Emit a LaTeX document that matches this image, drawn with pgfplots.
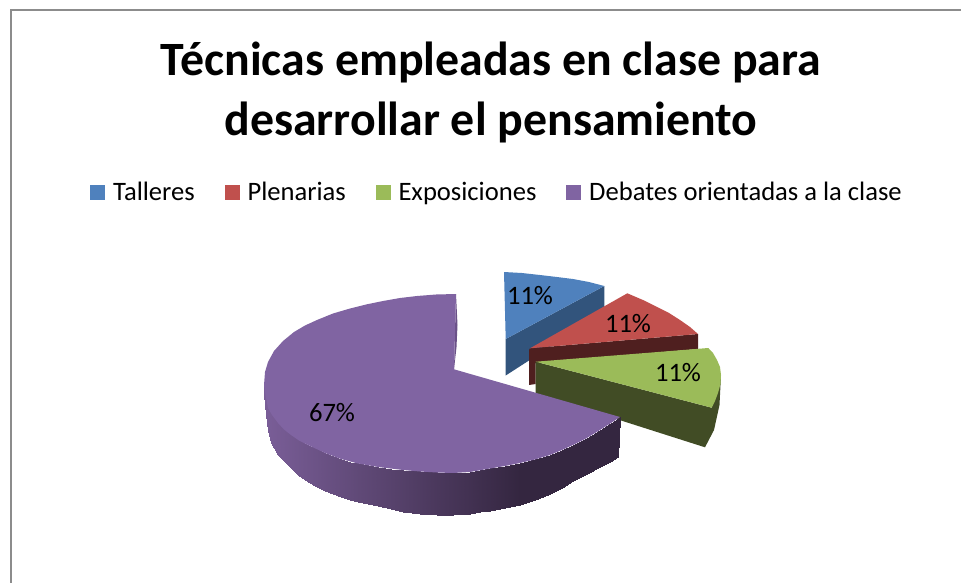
\documentclass[border=0pt]{standalone}
\usepackage{fontspec}
\setmainfont{Carlito}
\usepackage{pgfplots}
\pgfplotsset{compat=1.18}

\definecolor{cblue}{HTML}{4F81BD}
\definecolor{cbluedk}{HTML}{32547C}
\definecolor{cred}{HTML}{C0504D}
\definecolor{creddk}{HTML}{4F1F1F}
\definecolor{cgreen}{HTML}{9BBB59}
\definecolor{cgreendk}{HTML}{414C25}
\definecolor{cpurple}{HTML}{8064A2}
\definecolor{cpurplein}{HTML}{6A5187}
\definecolor{cframe}{HTML}{8C8C8C}

\begin{document}
\begin{tikzpicture}
\begin{axis}[
    width=961bp, height=583bp,
    scale only axis,
    hide axis,
    xmin=0, xmax=961,
    ymin=0, ymax=583,
    y dir=reverse,
    legend columns=4,
    legend cell align=left,
    legend style={
        draw=none, fill=none,
        font=\fontsize{26.7}{30}\selectfont,
        at={(90/961,391/583)}, anchor=west,
        inner sep=0pt,
        /tikz/every even column/.append style={column sep=27.7bp},
    },
    legend image code/.code={
        \fill[#1] (0bp,-7.5bp) rectangle (15bp,7.5bp);
        \path (21bp,0bp);
    },
    colormap={purpwall}{rgb255=(122,94,152) rgb255=(52,38,64)},
    point meta min=0, point meta max=1,
]
\path (axis cs:0,0) rectangle (axis cs:961,583);
% frame
\addplot[forget plot, cframe, line width=2bp] coordinates {(10.5,583) (10.5,10.5) (961,10.5)};

% Talleres
\addplot[forget plot, fill=cbluedk, draw=none] coordinates {(505.7,339) (604.3,286) (604.3,312) (505.7,375.5)} --cycle;
\addplot[fill=cblue, draw=none] coordinates {(505.7,339) (504,272) (522,273) (540,275) (557,277) (573,279) (589,282) (604.3,286)} --cycle;
\addlegendentry{Talleres}

% Plenarias
\addplot[forget plot, fill=creddk, draw=none] coordinates {(530,348.3) (698,334) (698,349) (535.7,363) (535.7,384) (529,385) (529,350)} --cycle;
\addplot[fill=cred, draw=none] coordinates {(530,348.3) (627.3,293.3) (643,300) (657,307) (669,313) (680,320) (690,327) (698,334)} --cycle;
\addlegendentry{Plenarias}

% Exposiciones
\addplot[forget plot, fill=cgreendk, draw=none] coordinates {(535.7,361.7) (711.7,407.7) (721,375) (719.5,405) (714,430) (705,447.3) (535.7,393.3)} --cycle;
\addplot[fill=cgreen, draw=none] coordinates {(535.7,361.7) (708.3,348) (713,353) (717,360) (720,367) (721,375) (720.5,384) (718,393) (715,401) (711.7,407.7)} --cycle;
\addlegendentry{Exposiciones}

% Debates: wall, inner sliver, then top
\addplot[forget plot, patch, patch type=rectangle, mesh input=lattice, mesh/cols=2, shader=interp, point meta=explicit]
    table[meta=c] {
x y c
264 385 0.00
264 395 0.00
266 398 0.01
266 415 0.01
268 408 0.015
268 430 0.015
272 415 0.03
271 443 0.03
278 423 0.055
278 455 0.055
291 435 0.105
291 468 0.105
299 440 0.137
299 475.5 0.137
308 445 0.17
308 482 0.17
316.5 449 0.205
316.5 486.5 0.205
325 453 0.24
325 490.5 0.24
333 456 0.27
333 494 0.27
341 459 0.30
341 497 0.30
349.5 461.5 0.334
349.5 499.5 0.334
358 463 0.37
358 501.5 0.37
368 465 0.406
368 504 0.406
378 467 0.445
378 506 0.445
390.5 468.5 0.494
390.5 509 0.494
403 470 0.54
403 511.5 0.54
420 471 0.61
420 513.5 0.61
437 472 0.68
437 514.5 0.68
453 472.5 0.738
453 515 0.738
470 472 0.80
470 513.5 0.80
480 470 0.844
480 512 0.844
490 468 0.88
490 510.5 0.88
505 465.5 0.94
505 508 0.94
520 463 1.00
520 504.5 1.00
535 459 1.00
535 499.5 1.00
550 455 1.00
550 493.5 1.00
562 450 1.00
562 487.5 1.00
573 445 1.00
573 481 1.00
587 438 1.00
587 474 1.00
600 430 1.00
600 467 1.00
611 423 1.00
610 462 1.00
620 417 1.00
618 457 1.00
};
\addplot[forget plot, fill=cpurplein, draw=none] coordinates {(456,294) (457.5,325) (456.5,347) (454,369.3)} --cycle;
\addplot[fill=cpurple, draw=none] coordinates {
    (454,369.3) (456,294) (436,294.5) (417,296) (400,298) (383,301) (366,304.5) (350,308.5)
    (333,313.5) (317,320) (305,325.5) (294,332) (283,341) (274,351) (268,362) (265,372) (264,385)
    (265,392) (266,398) (268,408) (272,415) (278,423) (284,429.5) (291,435) (299,440.5) (308,445)
    (325,453) (341,459) (358,463.5) (378,467) (403,470) (420,471.5) (437,472.5) (453,473) (470,472)
    (490,468.5) (505,466) (520,463) (535,459.5) (550,455) (562,450) (573,445) (587,438) (600,430) (611,423) (620,417)} --cycle;
\addlegendentry{Debates orientadas a la clase}

\node[font=\fontsize{48}{60}\selectfont\bfseries, align=center, anchor=center] at (axis cs:491,92.5)
    {Técnicas empleadas en clase para\\desarrollar el pensamiento};

\node[font=\fontsize{26.7}{30}\selectfont] at (axis cs:530,296) {11\%};
\node[font=\fontsize{26.7}{30}\selectfont] at (axis cs:628,324) {11\%};
\node[font=\fontsize{26.7}{30}\selectfont] at (axis cs:678,373) {11\%};
\node[font=\fontsize{26.7}{30}\selectfont] at (axis cs:332,413) {67\%};
\end{axis}
\end{tikzpicture}
\end{document}
